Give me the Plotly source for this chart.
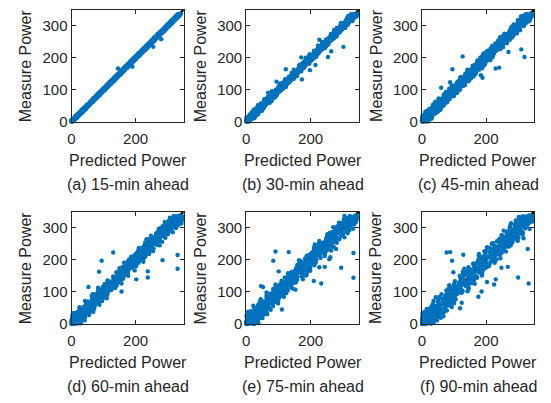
import plotly.graph_objects as go

# ---------------- data ----------------
# Measured power, first group of samples (shared by all six horizons)
measured = [
    0, 0, 1, 1, 2, 2, 3, 4, 4, 5,
    6, 7, 7, 8, 9, 10, 11, 12, 13, 14,
    15, 16, 17, 18, 19, 20, 21, 22, 23, 24,
    25, 26, 27, 28, 29, 30, 31, 32, 33, 34,
    35, 35, 36, 37, 38, 38, 39, 40, 41, 42,
    44, 45, 47, 49, 50, 52, 53, 55, 57, 58,
    60, 61, 63, 64, 66, 68, 69, 71, 72, 74,
    75, 77, 79, 80, 82, 83, 85, 87, 88, 90,
    91, 93, 94, 96, 98, 99, 101, 102, 104, 106,
    107, 109, 110, 112, 113, 115, 117, 118, 120, 121,
    123, 125, 126, 128, 129, 131, 132, 134, 136, 137,
    139, 140, 142, 144, 145, 147, 148, 150, 151, 153,
    155, 156, 158, 159, 161, 163, 164, 166, 167, 169,
    170, 172, 174, 175, 177, 178, 180, 182, 183, 185,
    186, 188, 189, 191, 193, 194, 196, 197, 199, 201,
    202, 204, 205, 207, 208, 210, 212, 213, 215, 216,
    218, 220, 221, 223, 224, 226, 227, 229, 231, 232,
    234, 235, 237, 239, 240, 242, 243, 245, 246, 248,
    250, 251, 253, 254, 256, 258, 259, 261, 262, 264,
    265, 267, 269, 270, 272, 273, 275, 277, 278, 280,
    281, 283, 284, 286, 288, 289, 291, 292, 294, 296,
    297, 299, 300, 302, 303, 305, 307, 308, 310, 311,
    313, 314, 316, 318, 319, 321, 322, 324, 325, 327,
    328, 329, 331, 332, 333, 334, 335, 336, 337, 338,
]

# Measured power, second group of samples
measured_2 = [
    0, 1, 1, 2, 3, 3, 4, 5, 5, 6,
    6, 7, 8, 9, 10, 11, 12, 12, 13, 14,
    15, 16, 18, 19, 20, 21, 22, 23, 24, 25,
    26, 27, 28, 29, 30, 31, 32, 33, 34, 36,
    36, 37, 38, 39, 40, 41, 42, 43, 43, 45,
    46, 48, 48, 50, 51, 53, 54, 56, 57, 59,
    61, 62, 64, 65, 67, 67, 70, 70, 73, 73,
    76, 76, 78, 81, 81, 84, 84, 86, 89, 89,
    92, 92, 95, 95, 97, 100, 100, 103, 103, 105,
    108, 108, 111, 111, 114, 114, 116, 119, 119, 122,
    122, 124, 127, 127, 130, 130, 133, 133, 135, 138,
    138, 141, 141, 143, 146, 146, 149, 149, 152, 152,
    154, 157, 157, 160, 160, 162, 165, 165, 168, 168,
    171, 171, 173, 176, 176, 179, 179, 181, 184, 184,
    187, 187, 190, 190, 192, 195, 195, 198, 198, 200,
    203, 203, 206, 206, 209, 209, 211, 214, 214, 217,
    217, 219, 222, 222, 225, 225, 228, 228, 230, 233,
    233, 236, 236, 238, 241, 241, 244, 244, 247, 247,
    249, 252, 252, 255, 255, 257, 260, 260, 263, 263,
    266, 266, 268, 271, 271, 274, 274, 276, 279, 279,
    282, 282, 285, 285, 287, 290, 290, 293, 293, 295,
    298, 298, 301, 301, 304, 304, 306, 309, 309, 312,
    312, 315, 315, 317, 320, 320, 323, 323, 326, 326,
    329, 330, 330, 331, 332, 333, 334, 335, 336, 337,
]

# ---- predicted power, first group ----
pred_15 = [
    2, 0, 0, 3, 5, 1, 0, 7, 2, 4,
    9, 5, 10, 6, 12, 8, 14, 10, 16, 12,
    13, 19, 15, 22, 17, 24, 18, 25, 20, 28,
    22, 30, 25, 27, 34, 28, 35, 29, 37, 31,
    39, 32, 41, 34, 43, 36, 40, 45, 38, 46,
    41, 49, 45, 54, 47, 56, 50, 59, 54, 62,
    57, 65, 60, 69, 63, 72, 66, 74, 70, 79,
    72, 81, 75, 84, 78, 88, 81, 91, 85, 94,
    88, 97, 91, 101, 94, 104, 97, 107, 100, 110,
    103, 114, 107, 116, 110, 120, 113, 123, 116, 126,
    119, 130, 122, 133, 125, 136, 128, 139, 132, 142,
    135, 145, 138, 149, 141, 152, 144, 155, 147, 158,
    151, 161, 154, 164, 157, 168, 160, 145, 163, 174,
    166, 190, 170, 180, 173, 183, 176, 187, 179, 190,
    182, 193, 185, 196, 189, 199, 192, 202, 195, 206,
    198, 209, 201, 212, 204, 215, 208, 218, 211, 221,
    214, 225, 217, 228, 220, 231, 223, 234, 227, 237,
    255, 240, 233, 244, 236, 247, 239, 250, 242, 253,
    246, 256, 249, 259, 252, 280, 255, 266, 258, 269,
    261, 272, 265, 275, 268, 278, 271, 282, 274, 285,
    277, 288, 280, 291, 284, 294, 287, 297, 290, 301,
    293, 304, 296, 307, 299, 310, 303, 313, 306, 316,
    309, 319, 312, 323, 315, 326, 318, 329, 321, 332,
    324, 334, 327, 336, 329, 338, 331, 340, 333, 341,
]

pred_30 = [
    4, 1, 0, 7, 3, 10, 6, 2, 12, 8,
    3, 13, 9, 1, 16, 12, 8, 19, 15, 22,
    11, 24, 17, 9, 27, 21, 15, 30, 25, 18,
    33, 22, 30, 38, 24, 35, 28, 41, 31, 27,
    29, 43, 39, 33, 47, 36, 44, 35, 52, 40,
    50, 39, 55, 46, 58, 47, 62, 51, 54, 66,
    53, 68, 62, 72, 59, 76, 70, 64, 81, 73,
    84, 70, 86, 77, 91, 80, 89, 95, 83, 68,
    97, 87, 103, 93, 108, 95, 110, 99, 112, 101,
    114, 104, 119, 108, 121, 111, 126, 115, 117, 130,
    119, 94, 133, 124, 138, 127, 173, 141, 131, 146,
    134, 148, 139, 153, 141, 156, 150, 143, 160, 149,
    162, 151, 167, 157, 198, 160, 123, 174, 163, 178,
    165, 181, 171, 184, 215, 175, 189, 178, 193, 181,
    195, 183, 198, 188, 203, 190, 206, 193, 208, 171,
    254, 212, 199, 216, 205, 219, 208, 223, 211, 226,
    213, 264, 228, 219, 233, 222, 237, 225, 240, 228,
    302, 243, 232, 248, 236, 251, 240, 254, 243, 257,
    246, 259, 249, 263, 227, 266, 255, 270, 258, 273,
    261, 275, 265, 279, 268, 281, 271, 285, 274, 288,
    289, 279, 293, 282, 296, 285, 299, 288, 302, 291,
    305, 294, 308, 298, 311, 300, 315, 303, 318, 306,
    309, 322, 312, 326, 315, 329, 318, 332, 321, 335,
    324, 337, 327, 339, 330, 341, 333, 344, 334, 345,
]

pred_45 = [
    6, 1, 13, 2, 4, 20, 0, 4, 3, 15,
    4, 21, 1, 12, 2, 18, 31, 6, 25, 2,
    31, 8, 19, 3, 29, 18, 35, 10, 29, 24,
    19, 36, 11, 46, 25, 34, 19, 44, 31, 16,
    43, 21, 36, 51, 30, 58, 35, 46, 31, 44,
    32, 49, 63, 43, 62, 34, 55, 53, 67, 50,
    78, 51, 69, 60, 52, 76, 69, 87, 52, 78,
    73, 89, 71, 100, 70, 85, 95, 71, 94, 84,
    105, 75, 98, 94, 106, 89, 119, 102, 90, 60,
    99, 115, 106, 128, 93, 125, 111, 120, 134, 109,
    88, 111, 146, 118, 129, 143, 130, 142, 120, 189,
    121, 142, 152, 138, 184, 143, 136, 168, 151, 161,
    167, 148, 156, 165, 147, 179, 95, 230, 187, 241,
    164, 190, 158, 175, 185, 166, 194, 184, 175, 195,
    188, 184, 201, 173, 199, 214, 186, 195, 215, 187,
    320, 127, 205, 221, 202, 194, 216, 225, 195, 222,
    270, 208, 227, 221, 234, 310, 245, 215, 233, 232,
    230, 249, 219, 247, 230, 246, 241, 265, 234, 260,
    260, 245, 255, 238, 274, 250, 271, 257, 268, 244,
    251, 267, 285, 262, 276, 283, 257, 285, 276, 294,
    287, 273, 280, 306, 276, 291, 305, 286, 304, 280,
    295, 317, 286, 306, 315, 297, 307, 324, 300, 319,
    333, 308, 324, 300, 321, 309, 328, 320, 339, 319,
    318, 333, 315, 342, 331, 346, 329, 338, 325, 338,
]

pred_60 = [
    9, 1, 19, 3, 5, 29, 0, 4, 2, 20,
    3, 28, 1, 14, 0, 22, 41, 3, 31, 1,
    39, 4, 20, 2, 34, 17, 42, 4, 32, 24,
    16, 41, 3, 55, 23, 36, 13, 50, 30, 7,
    47, 14, 36, 58, 26, 68, 33, 49, 26, 45,
    26, 51, 71, 40, 68, 25, 56, 52, 72, 46,
    87, 46, 72, 58, 45, 80, 69, 95, 42, 80,
    72, 95, 67, 110, 64, 86, 100, 63, 97, 81,
    112, 66, 100, 93, 110, 84, 156, 102, 83, 124,
    95, 118, 104, 136, 83, 53, 108, 121, 141, 103,
    129, 104, 156, 113, 129, 149, 129, 146, 112, 146,
    202, 143, 157, 135, 238, 141, 130, 177, 151, 165,
    173, 144, 155, 168, 140, 86, 238, 151, 197, 163,
    161, 331, 150, 175, 189, 160, 201, 185, 171, 200,
    189, 182, 207, 164, 202, 224, 181, 94, 284, 180,
    187, 216, 205, 228, 199, 186, 218, 231, 331, 225,
    242, 202, 230, 130, 239, 214, 254, 208, 234, 232,
    228, 256, 210, 251, 225, 248, 240, 275, 228, 266,
    265, 242, 256, 230, 283, 246, 277, 255, 271, 234,
    244, 267, 293, 258, 278, 288, 248, 289, 275, 301,
    290, 268, 278, 316, 270, 292, 312, 283, 309, 272,
    294, 326, 279, 308, 321, 293, 307, 332, 295, 323,
    343, 305, 328, 291, 322, 303, 331, 318, 346, 315,
    313, 335, 307, 347, 330, 346, 326, 339, 319, 338,
]

pred_75 = [
    1, 25, 2, 8, 0, 16, 38, 3, 25, 1,
    34, 2, 10, 1, 27, 7, 36, 4, 23, 14,
    5, 34, 3, 50, 12, 27, 2, 43, 20, 5,
    39, 1, 27, 53, 15, 65, 24, 42, 15, 37,
    14, 42, 64, 27, 59, 6, 42, 37, 59, 28,
    76, 111, 57, 42, 25, 66, 53, 83, 22, 65,
    57, 82, 49, 99, 45, 71, 87, 43, 82, 64,
    100, 45, 86, 77, 96, 65, 117, 87, 63, 111,
    77, 103, 87, 124, 63, 117, 91, 105, 129, 85,
    153, 84, 145, 94, 113, 52, 114, 46, 92, 131,
    91, 128, 233, 118, 154, 124, 111, 210, 136, 151,
    176, 126, 139, 333, 120, 175, 155, 132, 186, 146,
    145, 188, 130, 159, 175, 142, 101, 199, 153, 187,
    173, 165, 195, 295, 227, 244, 162, 179, 211, 160,
    168, 202, 189, 216, 183, 166, 203, 84, 164, 211,
    258, 183, 215, 204, 261, 196, 244, 188, 218, 216,
    211, 245, 333, 237, 132, 91, 224, 264, 210, 253,
    279, 225, 240, 211, 272, 228, 264, 238, 256, 213,
    225, 251, 281, 240, 263, 276, 227, 275, 259, 289,
    275, 249, 262, 305, 251, 276, 300, 267, 296, 252,
    278, 315, 259, 293, 309, 275, 291, 320, 276, 310,
    332, 289, 314, 270, 306, 284, 317, 301, 335, 297,
    295, 321, 288, 336, 316, 342, 312, 327, 304, 327,
    338, 322, 345, 307, 336, 344, 321, 336, 305, 343,
]

pred_90 = [
    0, 12, 1, 29, 1, 22, 2, 8, 1, 37,
    3, 3, 31, 2, 17, 2, 47, 5, 33, 2,
    19, 1, 29, 10, 59, 4, 49, 22, 3, 67,
    9, 46, 23, 32, 2, 54, 19, 64, 41, 10,
    43, 2, 68, 37, 54, 10, 31, 52, 21, 78,
    32, 57, 15, 119, 54, 28, 93, 39, 81, 54,
    84, 33, 63, 100, 124, 84, 65, 79, 36, 102,
    51, 105, 83, 68, 102, 43, 176, 79, 100, 74,
    103, 61, 110, 92, 122, 99, 186, 142, 76, 114,
    123, 109, 146, 88, 105, 145, 105, 138, 124, 85,
    225, 165, 333, 136, 161, 203, 144, 130, 120, 161,
    230, 124, 146, 172, 300, 163, 148, 118, 187, 141,
    127, 188, 154, 139, 98, 175, 128, 190, 159, 173,
    182, 132, 198, 248, 145, 268, 208, 182, 199, 165,
    186, 192, 161, 227, 177, 214, 192, 94, 175, 233,
    226, 180, 245, 203, 216, 190, 228, 177, 243, 129,
    178, 232, 213, 77, 88, 262, 195, 233, 219, 252,
    330, 231, 253, 203, 260, 250, 227, 277, 246, 220,
    218, 271, 241, 282, 260, 234, 299, 253, 242, 276,
    281, 317, 301, 270, 256, 297, 283, 249, 314, 276,
    265, 311, 276, 298, 264, 293, 255, 308, 282, 336,
    297, 275, 304, 290, 327, 301, 327, 276, 318, 291,
    333, 278, 316, 302, 343, 325, 294, 341, 317, 339,
    304, 342, 319, 344, 341, 302, 343, 316, 340, 334,
]

# ---- predicted power, second group ----
pred_15_b = [
    2, 0, 4, 0, 3, 8, 2, 5, 0, 9,
    6, 11, 5, 10, 6, 13, 17, 10, 16, 11,
    19, 14, 18, 14, 23, 21, 26, 20, 26, 25,
    24, 30, 24, 34, 29, 32, 29, 36, 34, 31,
    38, 33, 38, 43, 38, 46, 41, 45, 40, 45,
    43, 49, 52, 48, 54, 48, 54, 55, 60, 57,
    66, 59, 66, 64, 63, 69, 70, 74, 68, 74,
    76, 79, 76, 86, 78, 84, 87, 82, 91, 87,
    96, 87, 96, 95, 99, 97, 105, 103, 99, 108,
    106, 110, 110, 115, 109, 117, 114, 119, 123, 119,
    123, 120, 132, 124, 130, 133, 133, 135, 131, 140,
    133, 141, 144, 141, 150, 145, 146, 154, 152, 154,
    157, 155, 157, 162, 156, 166, 166, 162, 173, 167,
    169, 176, 169, 176, 178, 176, 183, 181, 182, 187,
    187, 186, 193, 185, 194, 200, 192, 198, 202, 196,
    200, 205, 206, 210, 207, 205, 212, 217, 209, 219,
    221, 216, 224, 222, 228, 223, 233, 224, 230, 233,
    232, 240, 231, 240, 238, 242, 244, 249, 244, 250,
    252, 250, 252, 251, 260, 255, 263, 259, 265, 258,
    262, 266, 272, 269, 272, 277, 269, 278, 279, 283,
    284, 279, 284, 290, 284, 290, 294, 291, 296, 291,
    298, 303, 297, 302, 307, 302, 306, 313, 306, 314,
    317, 313, 317, 312, 320, 317, 325, 322, 330, 324,
    326, 331, 326, 334, 332, 336, 332, 335, 333, 337,
]

pred_30_b = [
    9, 1, 3, 0, 3, 1, 7, 2, 13, 5,
    1, 12, 5, 20, 4, 26, 7, 18, 1, 16,
    9, 16, 30, 11, 26, 19, 36, 12, 27, 34,
    28, 38, 23, 37, 18, 36, 24, 30, 49, 27,
    44, 23, 44, 37, 51, 30, 42, 55, 37, 48,
    40, 57, 45, 55, 36, 61, 49, 58, 45, 73,
    64, 60, 79, 56, 76, 64, 81, 56, 79, 65,
    70, 90, 67, 83, 81, 96, 75, 91, 87, 97,
    80, 95, 104, 80, 102, 92, 106, 103, 114, 100,
    123, 100, 109, 123, 103, 116, 113, 128, 105, 127,
    113, 135, 129, 121, 138, 125, 147, 121, 135, 144,
    150, 144, 133, 158, 143, 155, 143, 147, 157, 141,
    151, 148, 171, 160, 166, 148, 167, 173, 163, 179,
    180, 169, 179, 164, 181, 182, 168, 196, 176, 184,
    195, 182, 192, 201, 183, 189, 200, 195, 210, 185,
    195, 217, 206, 195, 218, 220, 197, 217, 212, 223,
    219, 227, 210, 227, 220, 223, 237, 222, 245, 224,
    239, 236, 248, 223, 244, 255, 236, 249, 244, 236,
    235, 254, 250, 263, 249, 248, 263, 272, 258, 272,
    281, 263, 273, 263, 273, 280, 263, 276, 290, 273,
    285, 273, 294, 283, 273, 285, 298, 281, 307, 292,
    296, 309, 292, 306, 304, 316, 300, 311, 294, 320,
    318, 330, 310, 326, 311, 318, 334, 315, 329, 314,
    343, 324, 330, 317, 340, 338, 331, 344, 325, 339,
]

pred_45_b = [
    18, 1, 5, 0, 15, 1, 2, 0, 15, 1,
    20, 1, 28, 5, 16, 1, 14, 20, 2, 14,
    9, 28, 2, 21, 18, 31, 14, 11, 28, 41,
    22, 13, 36, 29, 46, 11, 36, 51, 24, 42,
    56, 25, 40, 49, 24, 47, 36, 41, 55, 37,
    44, 56, 38, 68, 51, 39, 66, 70, 39, 63,
    77, 42, 74, 59, 69, 81, 58, 62, 79, 69,
    66, 76, 90, 79, 89, 68, 90, 90, 75, 109,
    86, 106, 91, 83, 115, 100, 108, 85, 105, 115,
    114, 94, 127, 115, 104, 134, 112, 131, 111, 120,
    122, 132, 115, 141, 132, 122, 143, 127, 153, 122,
    120, 147, 161, 133, 144, 162, 135, 151, 148, 164,
    168, 151, 141, 164, 172, 142, 171, 155, 176, 168,
    169, 181, 165, 194, 162, 181, 179, 197, 172, 190,
    195, 177, 194, 188, 212, 183, 207, 194, 212, 182,
    187, 221, 198, 218, 205, 215, 191, 224, 208, 219,
    209, 223, 232, 204, 233, 223, 242, 214, 230, 249,
    253, 224, 238, 252, 235, 251, 228, 250, 237, 243,
    253, 264, 244, 255, 271, 247, 268, 258, 281, 249,
    248, 268, 256, 277, 267, 288, 266, 296, 273, 287,
    292, 280, 297, 279, 289, 278, 290, 283, 297, 279,
    284, 300, 319, 293, 304, 286, 316, 315, 305, 324,
    316, 299, 323, 337, 314, 332, 311, 321, 340, 316,
    309, 340, 328, 345, 320, 339, 334, 343, 328, 339,
]

pred_60_b = [
    0, 1, 3, 2, 15, 1, 14, 1, 9, 2,
    2, 21, 4, 15, 3, 13, 1, 20, 7, 34,
    23, 6, 34, 19, 12, 33, 26, 9, 42, 23,
    10, 37, 22, 43, 32, 19, 52, 29, 24, 42,
    50, 35, 46, 21, 50, 45, 34, 59, 43, 31,
    26, 54, 44, 62, 43, 71, 38, 58, 51, 69,
    73, 50, 84, 63, 71, 57, 78, 52, 87, 69,
    76, 78, 64, 99, 73, 94, 82, 92, 77, 105,
    98, 72, 107, 99, 81, 94, 114, 103, 111, 95,
    94, 124, 109, 101, 134, 120, 98, 131, 115, 124,
    132, 116, 129, 141, 118, 138, 133, 117, 153, 132,
    134, 161, 131, 147, 162, 132, 155, 147, 144, 164,
    162, 157, 175, 148, 156, 176, 159, 175, 170, 150,
    177, 155, 181, 174, 188, 179, 169, 201, 170, 188,
    175, 201, 192, 184, 202, 175, 211, 194, 204, 192,
    215, 189, 206, 224, 199, 217, 209, 218, 196, 231,
    211, 225, 206, 232, 227, 213, 248, 220, 242, 231,
    237, 216, 252, 238, 249, 227, 240, 250, 237, 265,
    241, 262, 250, 257, 237, 269, 254, 276, 267, 251,
    268, 256, 274, 267, 291, 266, 288, 276, 265, 287,
    264, 280, 297, 273, 291, 286, 308, 277, 303, 289,
    298, 304, 289, 315, 302, 314, 286, 311, 301, 328,
    300, 327, 309, 337, 328, 304, 327, 313, 340, 324,
    339, 312, 330, 323, 345, 335, 320, 344, 332, 343,
]

pred_75_b = [
    1, 6, 21, 1, 18, 2, 7, 2, 18, 1,
    29, 2, 16, 4, 1, 21, 12, 32, 3, 19,
    12, 31, 8, 44, 5, 24, 35, 3, 32, 17,
    44, 4, 33, 26, 40, 18, 55, 33, 16, 51,
    26, 45, 33, 59, 15, 54, 34, 46, 61, 30,
    51, 30, 73, 37, 51, 68, 51, 66, 37, 67,
    38, 65, 77, 57, 85, 62, 55, 93, 73, 83,
    91, 66, 75, 89, 63, 104, 89, 73, 114, 84,
    84, 115, 75, 95, 107, 85, 118, 106, 93, 118,
    111, 103, 126, 88, 122, 139, 103, 116, 139, 104,
    109, 134, 127, 145, 122, 110, 138, 148, 110, 146,
    158, 126, 149, 140, 159, 136, 172, 131, 155, 152,
    149, 175, 134, 170, 147, 167, 162, 190, 153, 183,
    184, 163, 176, 156, 199, 169, 194, 176, 192, 159,
    169, 187, 210, 180, 197, 208, 172, 208, 195, 218,
    211, 190, 201, 231, 194, 212, 229, 206, 227, 197,
    214, 242, 204, 227, 240, 215, 228, 248, 217, 243,
    258, 228, 246, 215, 244, 226, 252, 239, 265, 237,
    236, 257, 232, 268, 252, 272, 252, 263, 248, 263,
    274, 261, 283, 253, 274, 297, 264, 276, 256, 292,
    279, 300, 272, 290, 267, 300, 315, 285, 308, 280,
    318, 288, 304, 276, 317, 301, 324, 294, 317, 312,
    304, 328, 295, 340, 315, 325, 308, 338, 323, 303,
    339, 312, 330, 345, 322, 346, 329, 343, 323, 340,
]

pred_90_b = [
    6, 1, 13, 2, 30, 3, 1, 23, 26, 3,
    1, 31, 2, 24, 1, 14, 33, 2, 1, 23,
    45, 1, 18, 37, 17, 33, 2, 32, 30, 4,
    41, 18, 49, 23, 12, 58, 32, 45, 7, 39,
    33, 46, 17, 63, 46, 26, 72, 37, 61, 33,
    22, 48, 60, 32, 72, 56, 42, 71, 48, 86,
    79, 35, 73, 95, 52, 64, 94, 49, 76, 67,
    76, 97, 69, 57, 87, 102, 54, 95, 74, 101,
    101, 89, 110, 83, 124, 79, 103, 103, 127, 87,
    81, 120, 96, 117, 111, 144, 98, 137, 113, 143,
    125, 100, 154, 115, 148, 124, 142, 103, 150, 129,
    162, 129, 147, 158, 119, 158, 146, 170, 131, 152,
    148, 187, 139, 163, 181, 153, 180, 141, 177, 153,
    150, 177, 191, 164, 176, 203, 164, 193, 181, 211,
    199, 160, 193, 172, 201, 189, 216, 186, 228, 191,
    179, 218, 203, 224, 200, 212, 193, 214, 199, 223,
    235, 198, 225, 249, 213, 225, 201, 243, 239, 227,
    218, 242, 212, 250, 271, 232, 262, 226, 244, 268,
    252, 222, 267, 252, 276, 239, 269, 260, 287, 251,
    242, 293, 262, 277, 253, 292, 271, 249, 270, 294,
    282, 303, 273, 315, 281, 299, 275, 296, 305, 274,
    322, 289, 319, 274, 307, 301, 321, 297, 291, 318,
    321, 309, 294, 329, 320, 344, 293, 329, 345, 311,
    317, 345, 312, 334, 344, 309, 343, 326, 335, 345,
]

predictions = [pred_15, pred_30, pred_45, pred_60, pred_75, pred_90]
predictions_b = [pred_15_b, pred_30_b, pred_45_b, pred_60_b, pred_75_b, pred_90_b]
captions = ["(a) 15-min ahead", "(b) 30-min ahead", "(c) 45-min ahead",
            "(d) 60-min ahead", "(e) 75-min ahead", "(f) 90-min ahead"]
ref_line = [0, 350]
x_tick_vals = [0, 200]
y_tick_vals = [0, 100, 200, 300]
x_label = "Predicted Power"
y_label = "Measure Power"

# ---------------- layout (pixels of the 551x403 page) ----------------
W, H = 551, 403
col_px = [(68, 181), (244, 357.5), (421, 534)]
row_px = [(10, 124), (216, 330.5)]
ytitle_x = [21.7, 198, 375]
xtitle_y = [163.5, 369.5]
caption_y = [188.5, 394]

FONT = "Liberation Sans, Arial, Helvetica, sans-serif"
TXT = "#262626"
BLUE = "#0072BD"

fig = go.Figure()
layout = dict(
    width=W, height=H, margin=dict(l=0, r=0, t=0, b=0),
    paper_bgcolor="white", plot_bgcolor="white", showlegend=False,
    hovermode=False, font=dict(family=FONT, color=TXT),
)
annotations = []

for k in range(6):
    r, c = divmod(k, 3)
    suf = "" if k == 0 else str(k + 1)
    xa, ya = "x" + suf, "y" + suf
    fig.add_trace(go.Scatter(x=ref_line, y=ref_line, mode="lines",
                             line=dict(color="black", width=2.5),
                             xaxis=xa, yaxis=ya))
    fig.add_trace(go.Scatter(x=predictions[k] + predictions_b[k],
                             y=measured + measured_2, mode="markers",
                             marker=dict(size=4.4, color=BLUE, line=dict(width=0)),
                             cliponaxis=False, xaxis=xa, yaxis=ya))
    x0, x1 = col_px[c]
    y0, y1 = row_px[r]
    common = dict(range=[0, 350], ticks="inside", ticklen=4, tickcolor=TXT,
                  tickwidth=1, showline=True, linecolor=TXT, linewidth=1,
                  mirror="ticks", showgrid=False, zeroline=False,
                  tickfont=dict(family=FONT, size=15, color=TXT))
    layout["xaxis" + suf] = dict(domain=[x0 / W, x1 / W], anchor=ya,
                                 tickvals=x_tick_vals, ticklabelstandoff=3, **common)
    layout["yaxis" + suf] = dict(domain=[1 - y1 / H, 1 - y0 / H], anchor=xa,
                                 tickvals=y_tick_vals, **common)
    cx = (x0 + x1) / 2
    cy = (y0 + y1) / 2
    annotations.append(dict(x=cx / W, y=1 - xtitle_y[r] / H, xref="paper", yref="paper",
                            text=x_label, showarrow=False, xanchor="center", yanchor="middle",
                            font=dict(family=FONT, size=16, color=TXT)))
    annotations.append(dict(x=cx / W, y=1 - caption_y[r] / H, xref="paper", yref="paper",
                            text=captions[k], showarrow=False, xanchor="center", yanchor="middle",
                            font=dict(family=FONT, size=16, color=TXT)))
    annotations.append(dict(x=ytitle_x[c] / W, y=1 - cy / H, xref="paper", yref="paper",
                            text=y_label, showarrow=False, textangle=-90,
                            xanchor="center", yanchor="middle",
                            font=dict(family=FONT, size=16, color=TXT)))

layout["annotations"] = annotations
fig.update_layout(**layout)
fig.write_html("out.html", config={"displayModeBar": False},
               post_script="document.body.style.margin='0px';")
